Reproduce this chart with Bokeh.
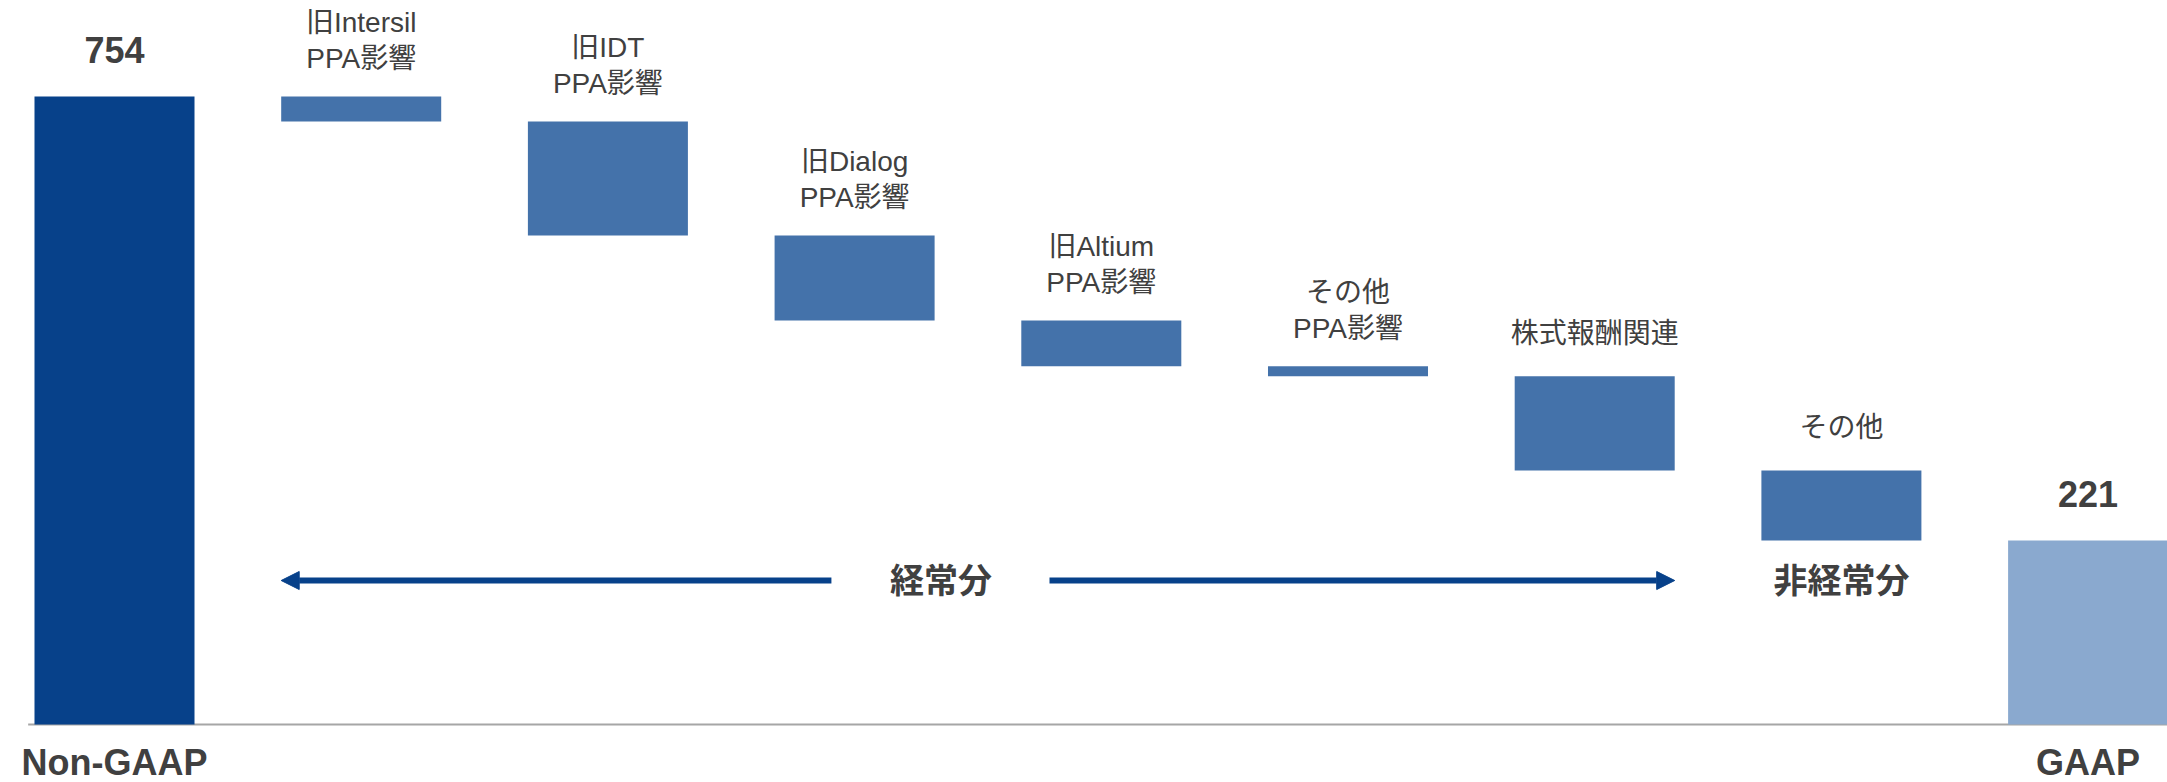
from bokeh.plotting import figure
from bokeh.models import ColumnDataSource, LabelSet, Range1d, Arrow, NormalHead, Label
from bokeh.embed import file_html
from bokeh.resources import INLINE
from bokeh.core.properties import value

# ---------------- data ----------------
categories = ["Non-GAAP", "旧Intersil\nPPA影響", "旧IDT\nPPA影響", "旧Dialog\nPPA影響",
              "旧Altium\nPPA影響", "その他\nPPA影響", "株式報酬関連", "その他", "GAAP"]
start_total = 754
end_total = 221
adjustments = [-30, -137, -102, -55, -12, -113, -84]
sections = ["経常分", "非経常分"]

# ---------------- style / layout ----------------
W, H = 2167, 782
PX_PER_CAT = 246.7
FIRST_CENTER_PX = 114
BAR_W = 0.6486
PX_PER_UNIT = 0.8329
ZERO_PX_FROM_TOP = 724

C_START = "#07418A"
C_STEP = "#4472AA"
C_END = "#8AA9CF"
C_ARROW = "#07418A"
C_TEXT = "#404040"
C_AXIS = "#A6A6A6"
FONT_NAME = "Liberation Sans, Noto Sans CJK JP"

x0 = -FIRST_CENTER_PX / PX_PER_CAT
x1 = x0 + W / PX_PER_CAT
y1 = ZERO_PX_FROM_TOP / PX_PER_UNIT
y0 = y1 - H / PX_PER_UNIT

# ---------------- derived bars ----------------
levels = [start_total]
for a in adjustments:
    levels.append(levels[-1] + a)

xs = list(range(len(categories)))
tops = [start_total] + levels[:-1] + [end_total]
bottoms = [0] + levels[1:] + [0]
colors = [C_START] + [C_STEP] * len(adjustments) + [C_END]

src = ColumnDataSource(dict(x=xs, top=tops, bottom=bottoms, color=colors))

p = figure(width=W, height=H, output_backend="svg", toolbar_location=None,
           x_range=Range1d(x0, x1), y_range=Range1d(y0, y1),
           x_axis_location=None, y_axis_location=None,
           min_border=0, min_border_left=0, min_border_right=0,
           min_border_top=0, min_border_bottom=0)
p.outline_line_color = None
p.xgrid.visible = False
p.ygrid.visible = False
p.background_fill_color = "white"

# axis baseline
p.segment(x0=[-0.35], y0=[0], x1=[x1], y1=[0], line_color=C_AXIS, line_width=2)

p.vbar(x="x", top="top", bottom="bottom", width=BAR_W, fill_color="color",
       line_color=None, source=src)

# value labels for totals
for i, v in [(0, start_total), (len(categories) - 1, end_total)]:
    p.add_layout(Label(x=i, y=v, y_offset=46, text=str(v), text_align="center",
                       text_baseline="middle", text_font=FONT_NAME, text_font_size="36px",
                       text_font_style="bold", text_color=C_TEXT))
    p.add_layout(Label(x=i, y=0, y_offset=-38, text=categories[i], text_align="center",
                       text_baseline="middle", text_font=FONT_NAME, text_font_size="36px",
                       text_font_style="bold", text_color=C_TEXT))

# step labels
lx, ly, lt, lo = [], [], [], []
for k in range(len(adjustments)):
    i = k + 1
    lines = categories[i].split("\n")
    if len(lines) == 2:
        offs = [74, 38]
    else:
        offs = [43]
    for line, off in zip(lines, offs):
        lx.append(i)
        ly.append(tops[i])
        lt.append(line)
        lo.append(off)
lsrc = ColumnDataSource(dict(x=lx, y=ly, text=lt, off=lo))
p.add_layout(LabelSet(x="x", y="y", text="text", y_offset="off", source=lsrc,
                      text_align="center", text_baseline="middle", text_font=value(FONT_NAME),
                      text_font_size="28px", text_color=C_TEXT))

# section arrows
ARROW_Y = 144 / PX_PER_UNIT
head = dict(size=18, fill_color=C_ARROW, line_color=C_ARROW)
p.add_layout(Arrow(end=NormalHead(**head), x_start=2.906, y_start=ARROW_Y,
                   x_end=1 - BAR_W / 2, y_end=ARROW_Y, line_color=C_ARROW, line_width=6))
p.add_layout(Arrow(end=NormalHead(**head), x_start=3.790, y_start=ARROW_Y,
                   x_end=6 + BAR_W / 2, y_end=ARROW_Y, line_color=C_ARROW, line_width=6))
for sx, s in [(3.35, sections[0]), (7.0, sections[1])]:
    p.add_layout(Label(x=sx, y=ARROW_Y, text=s, text_align="center", text_baseline="middle",
                       text_font=FONT_NAME, text_font_size="34px", text_font_style="bold",
                       text_color=C_TEXT))

open("out.html", "w").write(file_html(p, INLINE))
